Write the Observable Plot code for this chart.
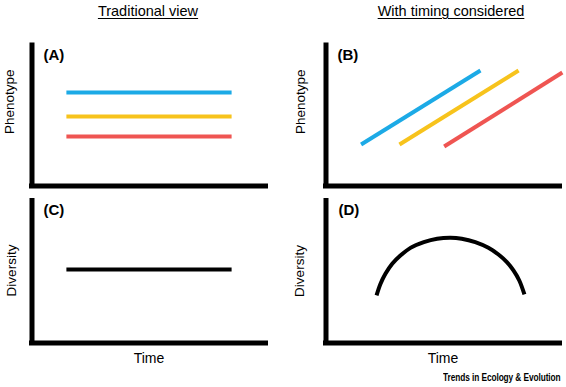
<!DOCTYPE html>
<html>
<head>
<meta charset="utf-8">
<script src="https://cdn.jsdelivr.net/npm/d3@7"></script>
<script src="https://cdn.jsdelivr.net/npm/@observablehq/plot@0.6"></script>
<style>
  html, body { margin: 0; padding: 0; background: #fff; }
  #fig { position: relative; width: 566px; height: 387px; overflow: hidden; font-family: "Liberation Sans", Arial, Helvetica, sans-serif; color: #000; }
  .panel { position: absolute; }
  .panel svg { display: block; overflow: visible; }
  .title { position: absolute; top: 3px; font-size: 14.5px; text-decoration: underline; text-decoration-thickness: 1px; text-underline-offset: 2px; white-space: nowrap; transform: translateX(-50%); }
  .footer { position: absolute; right: 5px; top: 372px; font-size: 10px; font-weight: bold; white-space: nowrap; transform: scaleX(0.83); transform-origin: right center; letter-spacing: -0.1px; }
</style>
</head>
<body>
<div id="fig"></div>
<script>
// ---------- data ----------
const columnTitles = ["Traditional view", "With timing considered"];
const panelLetters = ["(A)", "(B)", "(C)", "(D)"];
const yLabels = ["Phenotype", "Phenotype", "Diversity", "Diversity"];
const xLabel = "Time";
const footerText = "Trends in Ecology & Evolution";
const axisDomain = [0, 10];

const lineages = ["Lineage 1", "Lineage 2", "Lineage 3"];
const lineageColors = ["#1caae6", "#f7c31c", "#ef5552"];

// Panel A: constant phenotypes over time
const flatTime = [1.47, 8.53];
const phenotypeA = [6.65, 4.95, 3.52];

// Panel B: phenotype rising, lineages offset in time
const startTimeB = [1.50, 3.14, 5.05];
const endTimeB = [6.60, 8.23, 10.1];
const startPhenB = [2.95, 2.95, 2.81];
const endPhenB = [8.22, 8.22, 8.08];

// Panel C: constant diversity
const diversityC = 5.18;

// Panel D: diversity rises then falls
const timeD = [2.16, 2.33, 2.54, 2.83, 3.18, 3.61, 4.18, 4.75, 5.32, 5.80, 6.38, 6.94, 7.37, 7.73, 8.01, 8.26, 8.48];
const diversityD = [3.35, 4.17, 4.87, 5.58, 6.16, 6.70, 7.10, 7.34, 7.41, 7.34, 7.10, 6.70, 6.23, 5.69, 5.11, 4.40, 3.42];

// ---------- build tables ----------
const dataA = lineages.flatMap((s, i) => flatTime.map(t => ({series: s, time: t, value: phenotypeA[i]})));
const dataB = lineages.flatMap((s, i) => [
  {series: s, time: startTimeB[i], value: startPhenB[i]},
  {series: s, time: endTimeB[i], value: endPhenB[i]}
]);
const dataC = flatTime.map(t => ({time: t, value: diversityC}));
const dataD = timeD.map((t, i) => ({time: t, value: diversityD[i]}));

const fig = document.getElementById("fig");
const FONT = "'Liberation Sans', Arial, Helvetica, sans-serif";

function axesMarks() {
  return [
    Plot.ruleX([axisDomain[0]], {y1: axisDomain[0], y2: axisDomain[1], stroke: "#000", strokeWidth: 5, strokeLinecap: "square"}),
    Plot.ruleY([axisDomain[0]], {x1: axisDomain[0], x2: axisDomain[1], stroke: "#000", strokeWidth: 5, strokeLinecap: "square"})
  ];
}

function makePanel({left, top, width, height, margins, marks, letter, letterDx, letterDy, ylabel, ylabelDx, ylabelDy, showTime}) {
  const textMarks = [
    Plot.text([letter], {frameAnchor: "top-left", dx: letterDx, dy: letterDy, textAnchor: "start", lineAnchor: "middle", fontSize: 15, fontWeight: "bold"}),
    Plot.text([ylabel], {frameAnchor: "left", rotate: -90, dx: ylabelDx, dy: ylabelDy, textAnchor: "middle", lineAnchor: "middle", fontSize: 13.5})
  ];
  if (showTime) textMarks.push(Plot.text([xLabel], {frameAnchor: "bottom", dy: 15.5, textAnchor: "middle", lineAnchor: "middle", fontSize: 14}));
  const svg = Plot.plot({
    width, height,
    marginLeft: margins[0], marginRight: margins[1], marginTop: margins[2], marginBottom: margins[3],
    x: {domain: axisDomain, axis: null},
    y: {domain: axisDomain, axis: null},
    color: {domain: lineages, range: lineageColors},
    style: {fontFamily: FONT, fontSize: "13px", background: "transparent", overflow: "visible", color: "#000"},
    marks: [...axesMarks(), ...marks, ...textMarks]
  });
  const div = document.createElement("div");
  div.className = "panel";
  div.style.left = left + "px";
  div.style.top = top + "px";
  div.appendChild(svg);
  fig.appendChild(div);
}

// Panel A
makePanel({
  left: 0, top: 0, width: 283, height: 195,
  margins: [31.5, 17.5, 45, 9.5],
  marks: [Plot.line(dataA, {x: "time", y: "value", z: "series", stroke: "series", strokeWidth: 4, strokeLinecap: "butt"})],
  letter: panelLetters[0], letterDx: 11.5, letterDy: 10,
  ylabel: yLabels[0], ylabelDx: -22.5, ylabelDy: -14, showTime: false
});
// Panel B
makePanel({
  left: 283, top: 0, width: 283, height: 195,
  margins: [42.5, 6.5, 45, 9.5],
  marks: [Plot.line(dataB, {x: "time", y: "value", z: "series", stroke: "series", strokeWidth: 4, strokeLinecap: "butt"})],
  letter: panelLetters[1], letterDx: 11.5, letterDy: 10,
  ylabel: yLabels[1], ylabelDx: -25.5, ylabelDy: -14, showTime: false
});
// Panel C
makePanel({
  left: 0, top: 195, width: 283, height: 192,
  margins: [31.5, 17.5, 5.5, 44.5],
  marks: [Plot.line(dataC, {x: "time", y: "value", stroke: "#000", strokeWidth: 4, strokeLinecap: "butt"})],
  letter: panelLetters[2], letterDx: 11.5, letterDy: 9.5,
  ylabel: yLabels[2], ylabelDx: -20, ylabelDy: -1.5, showTime: true
});
// Panel D
makePanel({
  left: 283, top: 195, width: 283, height: 192,
  margins: [42.5, 6.5, 5.5, 44.5],
  marks: [Plot.line(dataD, {x: "time", y: "value", stroke: "#000", strokeWidth: 4, strokeLinecap: "butt", curve: "catmull-rom"})],
  letter: panelLetters[3], letterDx: 12.5, letterDy: 9.5,
  ylabel: yLabels[3], ylabelDx: -26, ylabelDy: -1, showTime: true
});

// Column titles
[148, 451].forEach((cx, i) => {
  const t = document.createElement("div");
  t.className = "title";
  t.style.left = cx + "px";
  t.textContent = columnTitles[i];
  fig.appendChild(t);
});

// Footer
const f = document.createElement("div");
f.className = "footer";
f.textContent = footerText;
fig.appendChild(f);
</script>
</body>
</html>
